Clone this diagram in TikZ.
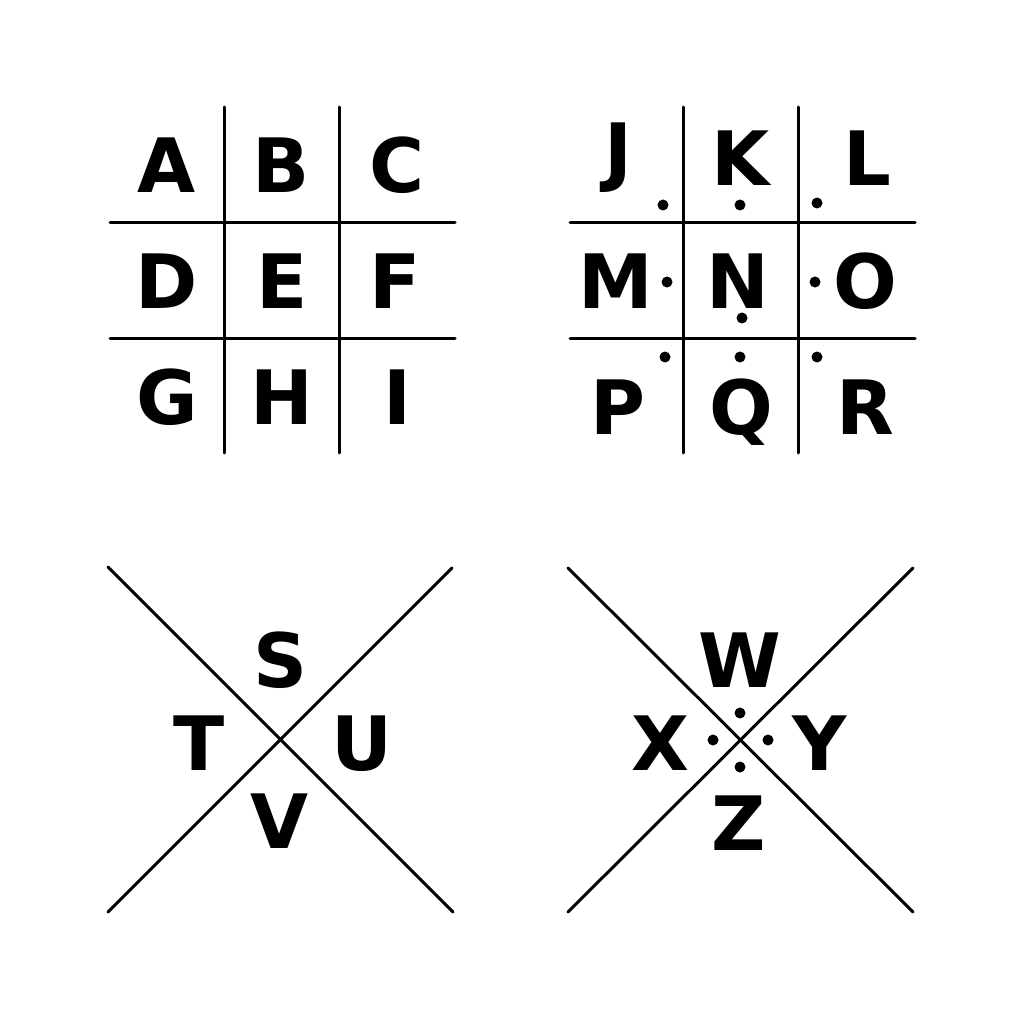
\documentclass[tikz,border=0pt]{standalone}
\usepackage{fontspec}
\setmainfont{DejaVu Sans}
\begin{document}
\begin{tikzpicture}[x=1pt,y=-1pt,
  letter/.style={anchor=base,inner sep=0pt,font=\fontsize{75}{80}\selectfont\bfseries},
  gridline/.style={line width=3pt,black,line cap=round},
  pdot/.style={fill=black,draw=none}]
\useasboundingbox[fill=white] (0,0) rectangle (1024,1024);
% grid 1
\draw[gridline] (110,223) -- (455,223);
\draw[gridline] (110,338) -- (455,338);
\draw[gridline] (224,107) -- (224,453);
\draw[gridline] (339,107) -- (339,453);
\node[letter] (A) at (167,193) {A};
\node[letter] (B) at (281,193) {B};
\node[letter] (C) at (397,193) {C};
\node[letter] (D) at (167,308) {D};
\node[letter] (E) at (282,308) {E};
\node[letter] (F) at (395,308) {F};
\node[letter] (G) at (167,424) {G};
\node[letter] (H) at (282,424) {H};
\node[letter] (I) at (397,424) {I};
% grid 2
\draw[gridline] (570,223) -- (915,223);
\draw[gridline] (570,338) -- (915,338);
\draw[gridline] (683,107) -- (683,453);
\draw[gridline] (798,107) -- (798,453);
\node[letter] (J) at (618,178) {J};
\node[letter] (K) at (741,186) {K};
\node[letter] (L) at (867,186) {L};
\node[letter] (M) at (616,308) {M};
\node[letter] (N) at (738,308) {N};
\node[letter] (O) at (865,308) {O};
\node[letter] (P) at (618,434) {P};
\node[letter] (Q) at (741,434) {Q};
\node[letter] (R) at (865,434) {R};
\fill[pdot] (663,205) circle (5.5);
\fill[pdot] (740,205) circle (5.5);
\fill[pdot] (817,203) circle (5.5);
\fill[pdot] (667,282) circle (5.5);
\fill[pdot] (742,318) circle (5.5);
\fill[pdot] (815,282) circle (5.5);
\fill[pdot] (665,357) circle (5.5);
\fill[pdot] (740,357) circle (5.5);
\fill[pdot] (817,357) circle (5.5);
% X 1
\draw[gridline] (108,567) -- (453,912);
\draw[gridline] (452,568) -- (108,912);
\node[letter] (S) at (281,687) {S};
\node[letter] (T) at (199,770) {T};
\node[letter] (U) at (362,770) {U};
\node[letter] (V) at (280,848) {V};
% X 2
\draw[gridline] (568,568) -- (913,912);
\draw[gridline] (913,568) -- (568,912);
\node[letter] (W) at (740,687) {W};
\node[letter] (X) at (660,770) {X};
\node[letter] (Y) at (820,770) {Y};
\node[letter] (Z) at (739,850) {Z};
\fill[pdot] (740,713) circle (5.5);
\fill[pdot] (713,740) circle (5.5);
\fill[pdot] (768,740) circle (5.5);
\fill[pdot] (740,767) circle (5.5);
\end{tikzpicture}
\end{document}
